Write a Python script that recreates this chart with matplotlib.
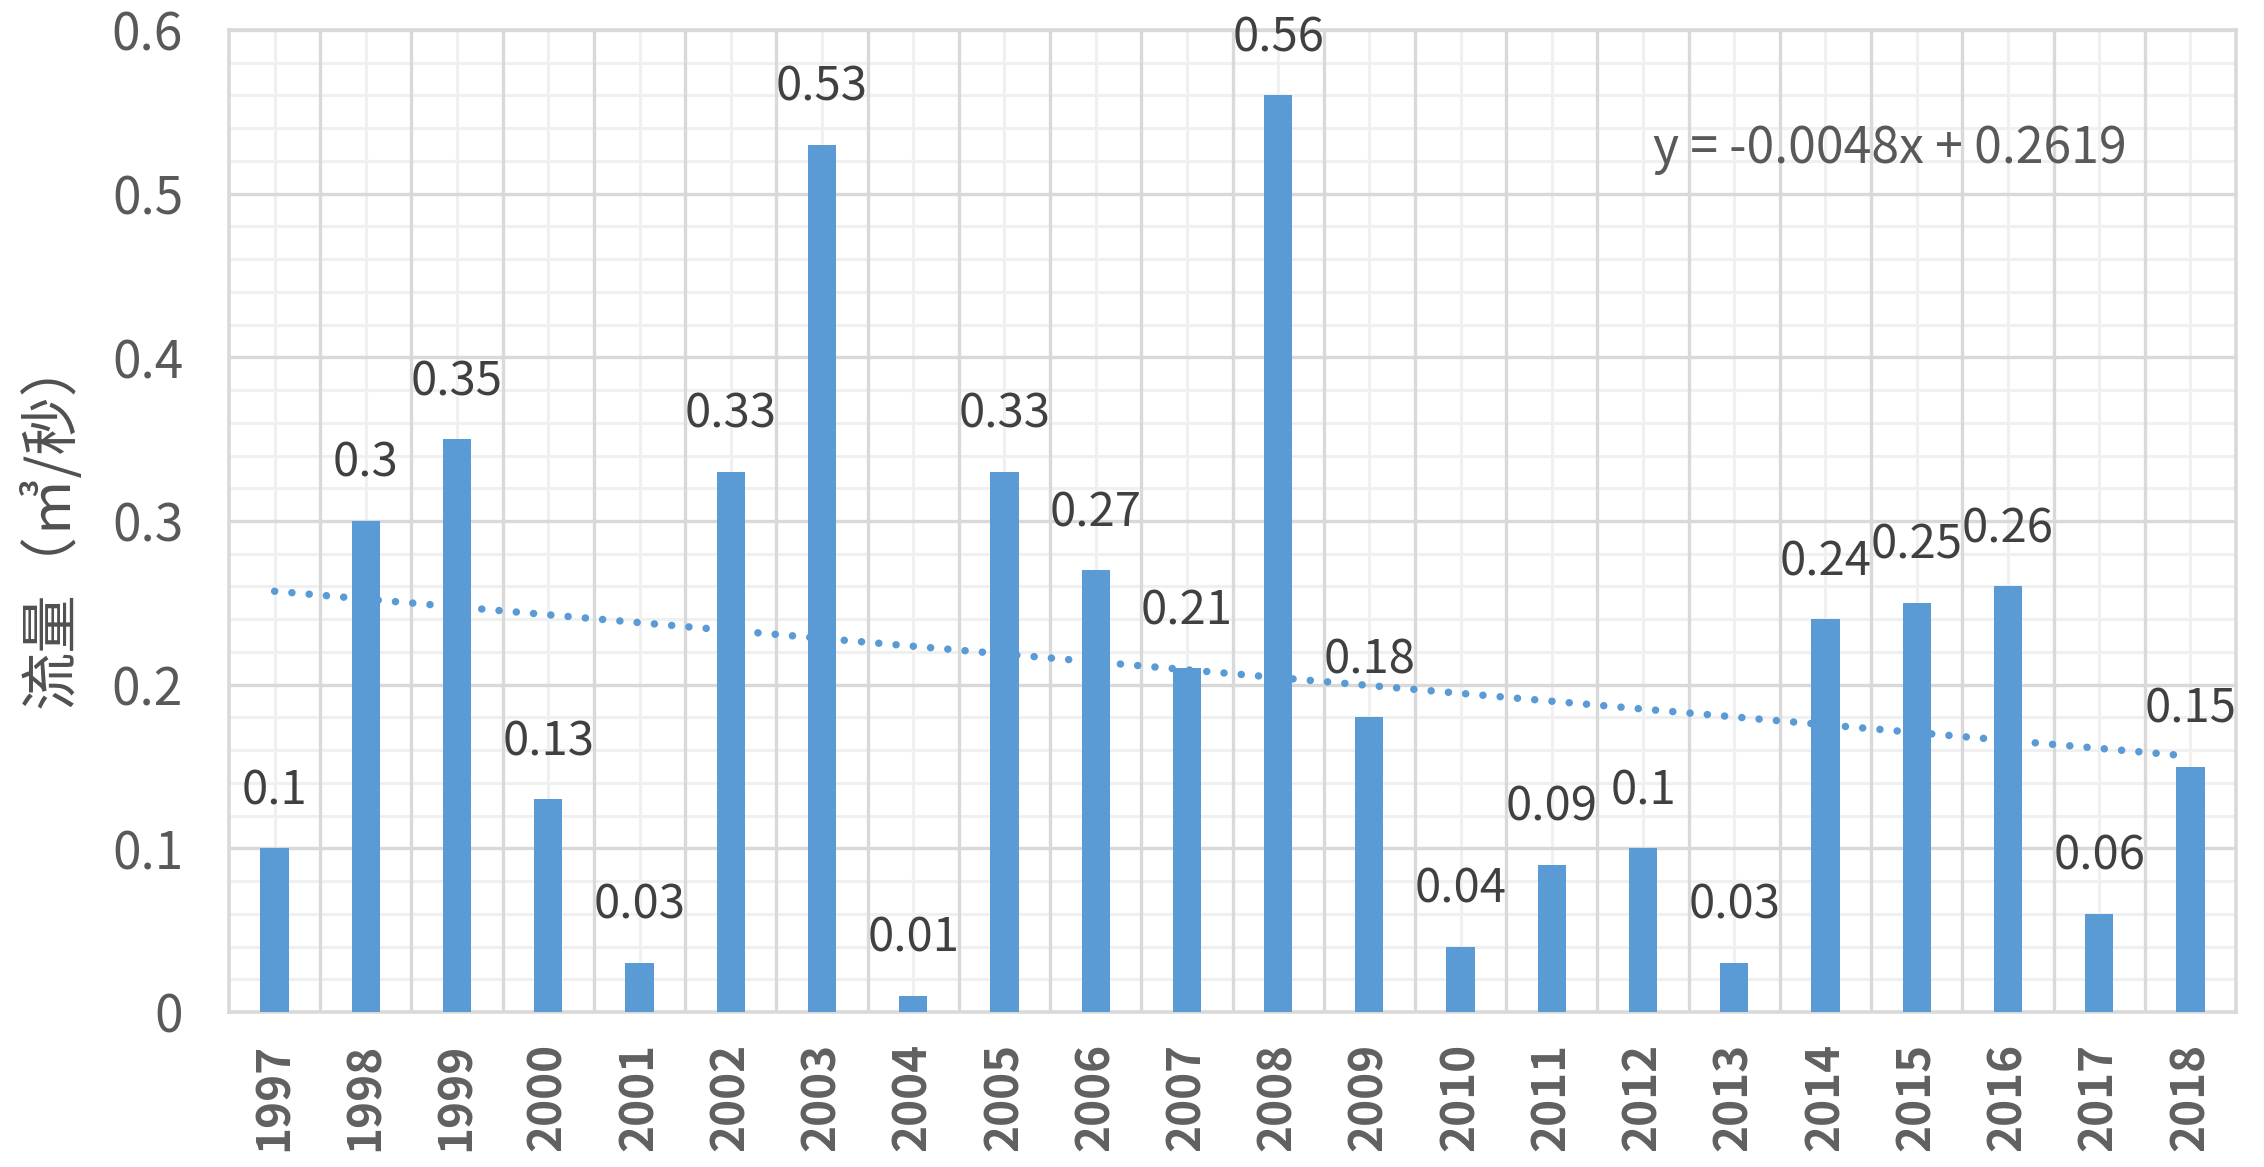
import matplotlib
matplotlib.use("Agg")
import matplotlib.pyplot as plt
import numpy as np
from matplotlib.ticker import FixedLocator

plt.rcParams['font.family'] = ['Noto Sans CJK SC', 'DejaVu Sans']

years = ["1997", "1998", "1999", "2000", "2001", "2002", "2003", "2004",
         "2005", "2006", "2007", "2008", "2009", "2010", "2011", "2012",
         "2013", "2014", "2015", "2016", "2017", "2018"]
flow = [0.1, 0.3, 0.35, 0.13, 0.03, 0.33, 0.53, 0.01, 0.33, 0.27, 0.21,
        0.56, 0.18, 0.04, 0.09, 0.1, 0.03, 0.24, 0.25, 0.26, 0.06, 0.15]
trend_slope = -0.0048
trend_intercept = 0.2619
ylabel = "流量（㎥/秒）"

bar_color = "#5B9BD5"
major_grid = "#D9D9D9"
minor_grid = "#F0F0F0"

fig = plt.figure(figsize=(22.64, 11.67), dpi=100)
ax = fig.add_axes([229 / 2264, 1 - 1012 / 1167, (2236 - 229) / 2264, (1012 - 30) / 1167])

x = np.arange(1, len(years) + 1)
ax.bar(x, flow, width=0.31, color=bar_color, zorder=3)

# linear trendline over the category index
xt = np.array([x[0], x[-1]])
ax.plot(xt, trend_slope * xt + trend_intercept, color=bar_color, lw=5.4,
        linestyle=(0, (0.01, 2.3)), dash_capstyle='round', zorder=4)
ax.text(18.71, 0.527, f"y = {trend_slope:.4f}x + {trend_intercept:.4f}",
        fontsize=36, color="#595959", ha='center', va='center', zorder=5)

for xi, v in zip(x, flow):
    ax.text(xi, v + 0.035, f"{v:g}", ha='center', va='center',
            fontsize=34, color="#404040", zorder=5)

ax.set_xlim(0.5, len(years) + 0.5)
ax.set_ylim(0, 0.6)

ax.xaxis.set_major_locator(FixedLocator(x))
ax.set_xticklabels(years, rotation=90)
ax.set_yticks([0, 0.1, 0.2, 0.3, 0.4, 0.5, 0.6])
ax.set_yticklabels(["0", "0.1", "0.2", "0.3", "0.4", "0.5", "0.6"])

# gridlines: drawn manually so vertical majors sit between categories
for yv in np.arange(0.02, 0.6, 0.02):
    if abs(round(yv * 10) - yv * 10) > 1e-6:
        ax.axhline(yv, color=minor_grid, lw=2.2, zorder=1)
for yv in np.arange(0.1, 0.61, 0.1):
    ax.axhline(yv, color=major_grid, lw=2.4, zorder=2)
for xv in x:
    ax.axvline(xv, color=minor_grid, lw=2.2, zorder=1)
for xv in np.arange(1.5, len(years), 1.0):
    ax.axvline(xv, color=major_grid, lw=2.4, zorder=2)

for s in ax.spines.values():
    s.set_color(major_grid)
    s.set_linewidth(2.6)
    s.set_zorder(2)

ax.tick_params(axis='both', which='both', length=0)
ax.tick_params(axis='y', labelsize=37, labelcolor="#595959", pad=33)
ax.tick_params(axis='x', labelsize=33, labelcolor="#606060", pad=22)
for lbl in ax.get_xticklabels():
    lbl.set_fontweight('bold')

ax.set_ylabel(ylabel, fontsize=42, color="#505050")
ax.yaxis.set_label_coords(-0.073, 0.5)

fig.savefig("out.png", dpi=100)
